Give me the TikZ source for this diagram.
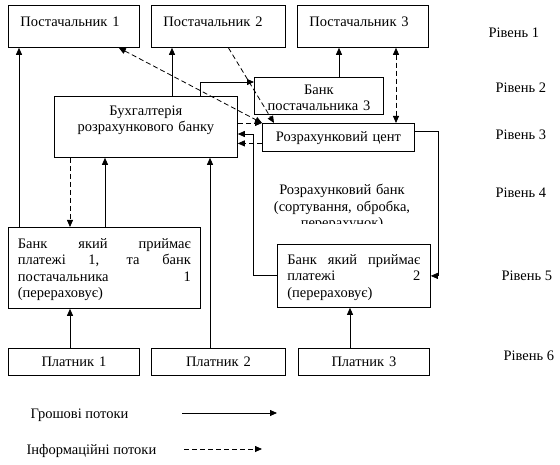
\documentclass[tikz,border=0pt]{standalone}
\usepackage{fontspec}
\setmainfont{Liberation Serif}
\usetikzlibrary{arrows.meta}
\newcommand{\boxfont}{\fontsize{14.5}{16.5}\selectfont}

\begin{document}
\begin{tikzpicture}[
  x=1pt,
  y=-1pt,
  >={Triangle[length=7pt,width=6pt]},
  box/.style={draw=black,line width=0.8pt,anchor=north west,inner ysep=0pt,font=\boxfont},
  money/.style={draw=black,line width=0.8pt,->},
  info/.style={draw=black,line width=0.8pt,dash pattern=on 5pt off 3pt,->},
  level/.style={anchor=base west,font=\boxfont}
]
  \useasboundingbox (0,0) rectangle (560,465);

  \node[box,align=left,inner xsep=12pt,text width=107pt,text height=21pt,text depth=21pt] (post1) at (8,5) {Постачальник 1};
  \node[box,align=left,inner xsep=12pt,text width=110pt,text height=21pt,text depth=21pt] (post2) at (151,5) {Постачальник 2};
  \node[box,align=left,inner xsep=12pt,text width=107pt,text height=21pt,text depth=21pt] (post3) at (297,5) {Постачальник 3};

  \node[box,align=center,inner xsep=4pt,text width=121pt,text height=17pt,text depth=20pt] (bank3) at (254,77) {Банк\\постачальника 3};
  \node[box,align=center,inner xsep=4pt,text width=175pt,text height=19pt,text depth=42pt] (buh) at (54,96) {Бухгалтерія\\розрахункового банку};
  \node[box,align=center,inner xsep=4pt,text width=144pt,text height=18pt,text depth=10pt] (rcent) at (262,123) {Розрахунковий цент};

  \node[box,align=justify,inner xsep=9.5pt,text width=173pt,text height=21pt,text depth=60pt] (bank1) at (8,227) {Банк який приймає\linebreak платежі 1, та банк\linebreak постачальника 1\linebreak (перераховує)};
  \node[box,align=justify,inner xsep=10pt,text width=133pt,text height=20pt,text depth=43pt] (bank2) at (277,244) {Банк який приймає\linebreak платежі 2\linebreak (перераховує)};

  \node[box,align=center,inner xsep=4pt,text width=123pt,text height=18pt,text depth=9pt] (pl1) at (8,348) {Платник 1};
  \node[box,align=center,inner xsep=4pt,text width=126pt,text height=18pt,text depth=9pt] (pl2) at (151,348) {Платник 2};
  \node[box,align=center,inner xsep=4pt,text width=123pt,text height=18pt,text depth=9pt] (pl3) at (298,348) {Платник 3};

  \begin{scope}
    \clip (253,160) rectangle (438,223.5);
    \node[anchor=base,align=center,text width=170pt,font=\boxfont] (rbank) at (342,195) {Розрахунковий банк\\(сортування, обробка,\\перерахунок)};
  \end{scope}

  \node[level] (lev1) at (485,38) {Рівень 1};
  \node[level] (lev2) at (492,93) {Рівень 2};
  \node[level] (lev3) at (492,140) {Рівень 3};
  \node[level] (lev4) at (492,198) {Рівень 4};
  \node[level] (lev5) at (498,281) {Рівень 5};
  \node[level] (lev6) at (500,360) {Рівень 6};

  \draw[money] ([xshift=11pt]bank1.north west) -- ([xshift=11pt]post1.south west);
  \draw[money] ([xshift=97pt]bank1.north west) -- ([xshift=51pt]buh.south west);
  \draw[info] ([xshift=16pt]buh.south west) -- ([xshift=62pt]bank1.north west);
  \draw[money] ([xshift=62pt]pl1.north west) -- ([xshift=62pt]bank1.south west);
  \draw[money] ([xshift=59pt]pl2.north west) -- ([xshift=156pt]buh.south west);
  \draw[money] ([xshift=52pt]pl3.north west) -- ([xshift=73pt]bank2.south west);
  \draw[money] ([xshift=118pt]buh.north west) -- ([xshift=21pt]post2.south west);
  \draw[money] ([xshift=146pt]buh.north west) |- ([yshift=-5pt]bank3.north west);
  \draw[money] ([xshift=85pt]bank3.north west) -- ([xshift=42pt]post3.south west);
  \draw[money] ([yshift=-8pt]rcent.north east) -- ++(24,0) |- (bank2.east);
  \draw[money] (bank2.west) -- ++(-24,0) |- ([yshift=-38pt]buh.north east);

  \draw[info] ([yshift=-6pt]rcent.west) -- ([yshift=-16.5pt]buh.east);
  \draw[info] ([yshift=-27pt]buh.north east) -- (rcent.north west);
  \draw[info,<->] ([xshift=-21pt]post1.south east) -- (rcent.north west);
  \draw[info] ([xshift=10pt]post2.south) -- ([xshift=12pt]rcent.north west);
  \draw[info,<->] ([xshift=99pt]post3.south west) -- ([xshift=134pt]rcent.north west);

  \node[level] (flow1) at (27,418) {Грошові потоки};
  \node[level] (flow2) at (23,454) {Інформаційні потоки};
  \coordinate (m1) at (182,413);
  \coordinate (m2) at (277,413);
  \coordinate (i1) at (184,449);
  \coordinate (i2) at (262,449);
  \draw[money] (m1) -- (m2);
  \draw[info] (i1) -- (i2);
\end{tikzpicture}
\end{document}
